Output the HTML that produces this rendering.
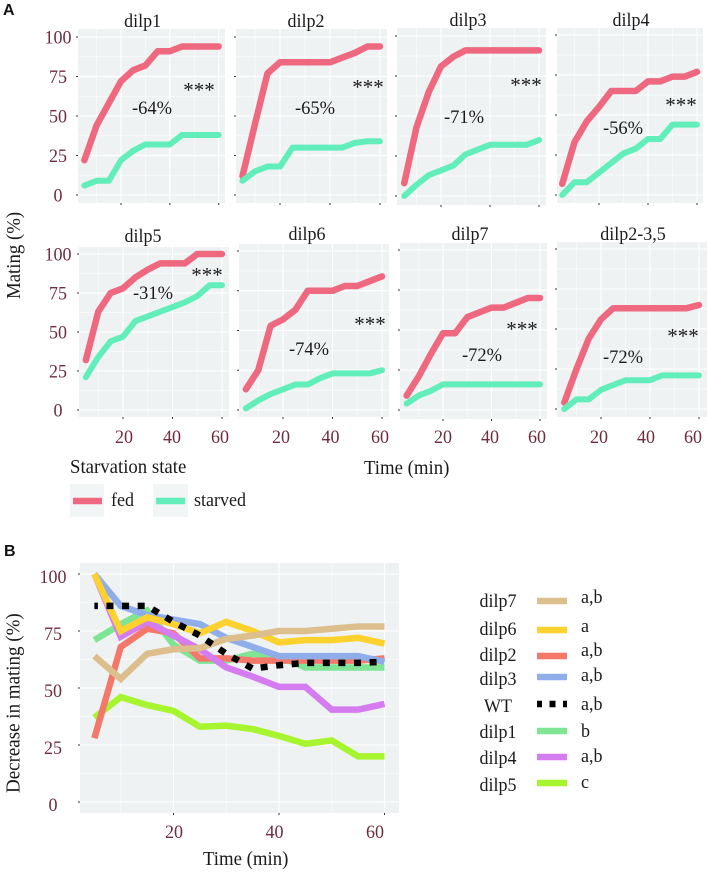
<!DOCTYPE html>
<html lang="en">
<head>
<meta charset="utf-8">
<title>Mating and decrease in mating over time</title>
<style>
html,body{margin:0;padding:0;background:#fff;width:709px;height:872px;overflow:hidden}
svg{display:block}
text{font-family:"Liberation Serif",serif;fill:#1c1a1c}
.tick{fill:#6e2c3e;font-size:18px}
.bold{font-family:"Liberation Sans",sans-serif;font-weight:bold;font-size:16px;fill:#111}
.t18{font-size:18px}
.t19{font-size:18.8px}
</style>
</head>
<body>
<svg id="figure" xmlns="http://www.w3.org/2000/svg" width="709" height="872" viewBox="0 0 709 872">
  <rect width="709" height="872" fill="#fff"/>
  <text class="bold" x="3" y="15">A</text>
  <text class="bold" x="4" y="556">B</text>

  <g id="panelsA"></g>

  <text class="t19" transform="translate(20 299) rotate(-90) scale(1 1.08)">Mating (%)</text>
  <text class="t19" transform="translate(364 474) scale(1 1.08)">Time (min)</text>

  <text class="t19" transform="translate(70 473) scale(1 1.08)">Starvation state</text>
  <g>
    <rect x="70" y="484" width="34" height="33" fill="#f2f5f5"/>
    <line x1="73" x2="102" y1="501" y2="501" stroke="#ee6880" stroke-width="6.5"/>
    <text class="t18" transform="translate(111 506) scale(1 1.08)">fed</text>
  </g>
  <g>
    <rect x="153" y="484" width="35" height="33" fill="#f2f5f5"/>
    <line x1="156" x2="185" y1="501" y2="501" stroke="#62eebb" stroke-width="6.5"/>
    <text class="t18" transform="translate(194 506) scale(1 1.08)">starved</text>
  </g>

  <g id="panelB"></g>

  <text style="font-size:19px" transform="translate(19.5 793) rotate(-90) scale(1 1.06)">Decrease in mating (%)</text>
  <text class="t19" transform="translate(203 865) scale(1 1.08)">Time (min)</text>

  <g id="legendB"></g>
</svg>

<script>
const SVG_NS = 'http://www.w3.org/2000/svg';

// ---- Panel A data ----
const timePoints = [5, 10, 15, 20, 25, 30, 35, 40, 45, 50, 55, 60];
const yTickValues = [0, 25, 50, 75, 100];
const yMinorValues = [12.5, 37.5, 62.5, 87.5];
const xTickValues = [20, 40, 60];
const xMinorValues = [10, 30, 50];

const dilp1Fed = [22, 44, 58, 72, 79, 82, 91, 91, 94, 94, 94, 94];
const dilp1Starved = [6, 9, 9, 22, 28, 32, 32, 32, 38, 38, 38, 38];
const dilp2Fed = [12, 45, 77, 84, 84, 84, 84, 84, 87, 90, 94, 94];
const dilp2Starved = [9, 15, 18, 18, 30, 30, 30, 30, 30, 33, 34, 34];
const dilp3Fed = [8, 43, 65, 81, 87, 91, 91, 91, 91, 91, 91, 91];
const dilp3Starved = [0, 7, 13, 16, 19, 26, 29, 32, 32, 32, 32, 35];
const dilp4Fed = [7, 33, 46, 55, 65, 65, 65, 71, 71, 74, 74, 77];
const dilp4Starved = [0, 8, 8, 14, 20, 26, 29, 35, 35, 44, 44, 44];
const dilp5Fed = [32, 63, 75, 78, 85, 90, 94, 94, 94, 100, 100, 100];
const dilp5Starved = [21, 34, 44, 47, 57, 60, 63, 66, 69, 73, 80, 80];
const dilp6Fed = [13, 25, 53, 57, 63, 75, 75, 75, 78, 78, 81, 84];
const dilp6Starved = [1, 6, 10, 13, 16, 16, 20, 23, 23, 23, 23, 25];
const dilp7Fed = [9, 21, 35, 48, 48, 58, 61, 64, 64, 67, 70, 70];
const dilp7Starved = [4, 9, 12, 16, 16, 16, 16, 16, 16, 16, 16, 16];
const dilp235Fed = [4, 25, 44, 56, 63, 63, 63, 63, 63, 63, 63, 65];
const dilp235Starved = [0, 6, 6, 12, 15, 18, 18, 18, 21, 21, 21, 21];

// ---- Panel B data ----
const decreaseYTicks = [0, 25, 50, 75, 100];
const decreaseYMinor = [12.5, 37.5, 62.5, 87.5];
const decreaseXTicks = [20, 40, 60];
const decreaseXMinor = [10, 30, 50];
const decreaseDilp5 = [37, 46, 42.5, 40, 33, 33.5, 32, 29, 25.5, 27, 20, 20];
const decreaseDilp1 = [71, 78, 84, 69, 62, 62, 65, 64, 59, 59, 59, 59];
const decreaseDilp2 = [28, 68, 76, 74, 63, 63, 62, 62, 62, 62, 62, 63];
const decreaseDilp3 = [100, 86, 82, 80, 78, 72, 68, 64, 64, 64, 64, 61.5];
const decreaseDilp4 = [100, 72.5, 79, 73, 67, 59, 55, 50.5, 50.5, 40.5, 40.5, 43];
const decreaseDilp6 = [100, 75, 81, 78, 74, 79, 75, 70, 71, 71, 72, 69.5];
const decreaseDilp7 = [64, 54, 65, 67, 67.5, 71.5, 73, 75, 75, 76, 77, 77];
const decreaseWT = [86, 86, 86, 79, 73, 65, 58.5, 60, 61, 61, 61, 61.5];

const fedColor = '#ee6880';
const starvedColor = '#62eebb';
const panelBg = '#eef2f3';

function mk(tag, attrs, parent) {
  const el = document.createElementNS(SVG_NS, tag);
  for (const k in attrs) el.setAttribute(k, attrs[k]);
  parent.appendChild(el);
  return el;
}

// Reference glyphs are slightly taller than they are wide.
function place(x, y, sy) {
  return 'translate(' + x + ' ' + y + ') scale(1 ' + (sy || 1.08) + ')';
}

function pathFrom(values, x, y) {
  return values.map((v, i) => (i ? 'L' : 'M') + x(timePoints[i]).toFixed(2) + ' ' + y(v).toFixed(2)).join(' ');
}

function drawFrame(g, f, x, y, xMajor, xMinor, yMajor, yMinor) {
  const bg = mk('rect', {x: f.left, y: f.top, width: f.right - f.left, height: f.bottom - f.top, fill: panelBg}, g);
  
  
  yMinor.forEach(v => {
    const l = mk('line', {x1: f.left, x2: f.right, y1: y(v), y2: y(v), stroke: '#fff', 'stroke-width': 0.7, 'stroke-opacity': 0.75}, g);
    
    
  });
  xMinor.forEach(v => {
    const l = mk('line', {x1: x(v), x2: x(v), y1: f.top, y2: f.bottom, stroke: '#fff', 'stroke-width': 0.7, 'stroke-opacity': 0.75}, g);
    
    
  });
  yMajor.forEach(v => {
    const l = mk('line', {x1: f.left, x2: f.right, y1: y(v), y2: y(v), stroke: '#fff', 'stroke-width': 1.2}, g);
    
    
    const t = mk('line', {x1: f.left - 2, x2: f.left, y1: y(v), y2: y(v), stroke: '#333', 'stroke-width': 1}, g);
    
    
  });
  xMajor.forEach(v => {
    const l = mk('line', {x1: x(v), x2: x(v), y1: f.top, y2: f.bottom, stroke: '#fff', 'stroke-width': 1.2}, g);
    
    
    const t = mk('line', {x1: x(v), x2: x(v), y1: f.bottom, y2: f.bottom + 2, stroke: '#333', 'stroke-width': 1}, g);
    
    
  });
}

function drawPanel(p) {
  const root = document.getElementById('panelsA');
  const g = mk('g', {}, root);
  
  

  const x = v => p.x20 + (v - 20) * (p.x60 - p.x20) / 40;
  const y = v => p.y0 + (p.y100 - p.y0) * v / 100;
  drawFrame(g, p, x, y, xTickValues, xMinorValues, yTickValues, yMinorValues);

  const title = mk('text', {transform: place(p.titleX, p.titleY), 'text-anchor': 'middle', 'font-size': 18}, g);
  title.textContent = p.title;
  
  

  const fed = mk('path', {d: pathFrom(p.fed, x, y), fill: 'none', stroke: fedColor, 'stroke-width': 6.5, 'stroke-linejoin': 'round', 'stroke-linecap': 'round'}, g);
  
  
  const starved = mk('path', {d: pathFrom(p.starved, x, y), fill: 'none', stroke: starvedColor, 'stroke-width': 6, 'stroke-linejoin': 'round', 'stroke-linecap': 'round'}, g);
  
  

  const pct = mk('text', {transform: place(p.pctX, p.pctY, 1.05), 'text-anchor': 'middle', 'font-size': 18.5}, g);
  pct.textContent = p.pct;
  
  
  const stars = mk('text', {x: p.starX, y: p.starY + 8.8, 'text-anchor': 'middle', 'font-size': 21}, g);
  stars.textContent = '***';
  
  

  if (p.showY) {
    yTickValues.forEach(v => {
      const t = mk('text', {transform: place(58, y(v) + 6.5, 1.05), 'text-anchor': 'middle', class: 'tick'}, g);
      t.textContent = String(v);
      
      
    });
  }
  if (p.label20 !== undefined) {
    const lx = v => p.label20 + (v - 20) * (p.label60 - p.label20) / 40;
    xTickValues.forEach(v => {
      const t = mk('text', {transform: place(lx(v), 443, 1.05), 'text-anchor': 'middle', class: 'tick'}, g);
      t.textContent = String(v);
      
      
    });
  }
}

drawPanel({title: 'dilp1', fed: dilp1Fed, starved: dilp1Starved, pct: '-64%', showY: true,
  left: 78, right: 225, top: 29, bottom: 203, x20: 121, x60: 218.7, y100: 37, y0: 195,
  titleX: 142.6, titleY: 27, pctX: 152, pctY: 114, starX: 199, starY: 88});
drawPanel({title: 'dilp2', fed: dilp2Fed, starved: dilp2Starved, pct: '-65%',
  left: 236, right: 387, top: 29, bottom: 203, x20: 280, x60: 380, y100: 37, y0: 195,
  titleX: 306, titleY: 27, pctX: 315, pctY: 114, starX: 368, starY: 85});
drawPanel({title: 'dilp3', fed: dilp3Fed, starved: dilp3Starved, pct: '-71%',
  left: 397, right: 546, top: 28, bottom: 205, x20: 441, x60: 539, y100: 36, y0: 196,
  titleX: 468, titleY: 26, pctX: 464, pctY: 123, starX: 526, starY: 83});
drawPanel({title: 'dilp4', fed: dilp4Fed, starved: dilp4Starved, pct: '-56%',
  left: 557, right: 703, top: 28, bottom: 203, x20: 599, x60: 697, y100: 35, y0: 195,
  titleX: 631, titleY: 26, pctX: 623, pctY: 134, starX: 681, starY: 103});
drawPanel({title: 'dilp5', fed: dilp5Fed, starved: dilp5Starved, pct: '-31%', showY: true,
  left: 79, right: 229, top: 247, bottom: 417, x20: 123, x60: 222, y100: 254, y0: 410,
  titleX: 143, titleY: 242, pctX: 153, pctY: 299, starX: 207, starY: 273, label20: 124, label60: 220});
drawPanel({title: 'dilp6', fed: dilp6Fed, starved: dilp6Starved, pct: '-74%',
  left: 239, right: 389, top: 244, bottom: 417, x20: 283, x60: 382, y100: 251, y0: 410,
  titleX: 307, titleY: 240, pctX: 309, pctY: 355, starX: 370, starY: 322, label20: 281, label60: 380});
drawPanel({title: 'dilp7', fed: dilp7Fed, starved: dilp7Starved, pct: '-72%',
  left: 400, right: 547, top: 243, bottom: 419, x20: 443, x60: 540, y100: 250, y0: 410,
  titleX: 470, titleY: 240, pctX: 482, pctY: 361, starX: 522, starY: 327, label20: 443, label60: 537});
drawPanel({title: 'dilp2-3,5', fed: dilp235Fed, starved: dilp235Starved, pct: '-72%',
  left: 557, right: 707, top: 242, bottom: 417, x20: 601, x60: 699, y100: 249, y0: 409,
  titleX: 633, titleY: 240, pctX: 623, pctY: 363, starX: 683, starY: 334, label20: 599, label60: 693});

// ---- Panel B ----
(function () {
  const g = document.getElementById('panelB');
  const f = {left: 80, right: 399, top: 563, bottom: 813};
  const x = v => 173.5 + (v - 20) * (384.5 - 173.5) / 40;
  const y = v => 802 + (574 - 802) * v / 100;
  const labelX = v => 174 + (v - 20) * (375 - 174) / 40;
  drawFrame(g, f, x, y, decreaseXTicks, decreaseXMinor, decreaseYTicks, decreaseYMinor);

  const draw = [
    ['dilp5', decreaseDilp5, '#a6f52f'],
    ['dilp1', decreaseDilp1, '#7fe494'],
    ['dilp2', decreaseDilp2, '#f4786a'],
    ['dilp3', decreaseDilp3, '#8fade8'],
    ['dilp4', decreaseDilp4, '#d57df0'],
    ['dilp6', decreaseDilp6, '#fdd22f'],
    ['dilp7', decreaseDilp7, '#dcbf8c'],
    ['wt', decreaseWT, '#000000']
  ];
  draw.forEach(s => {
    const attrs = {d: pathFrom(s[1], x, y), fill: 'none', stroke: s[2], 'stroke-width': 6.5, 'stroke-linejoin': 'miter'};
    if (s[0] === 'wt') { attrs['stroke-dasharray'] = '7 8.6'; attrs['stroke-dashoffset'] = '3.5'; }
    const p = mk('path', attrs, g);
    
    
  });

  decreaseYTicks.forEach(v => {
    const t = mk('text', {transform: place(53, y(v) + 9, 1.05), 'text-anchor': 'middle', class: 'tick'}, g);
    t.textContent = String(v);
    
    
  });
  decreaseXTicks.forEach(v => {
    const t = mk('text', {transform: place(labelX(v), 838, 1.05), 'text-anchor': 'middle', class: 'tick'}, g);
    t.textContent = String(v);
    
    
  });

  const lg = document.getElementById('legendB');
  const entries = [
    ['dilp7', 607, 601, '#dcbf8c', 'a,b', 603],
    ['dilp6', 635, 630, '#fdd22f', 'a', 632],
    ['dilp2', 661, 656, '#f4786a', 'a,b', 656],
    ['dilp3', 685, 677, '#8fade8', 'a,b', 681],
    ['WT', 712, 704, '#000000', 'a,b', 710],
    ['dilp1', 738, 731, '#7fe494', 'b', 737],
    ['dilp4', 764, 757, '#d57df0', 'a,b', 762],
    ['dilp5', 791, 783, '#a6f52f', 'c', 788]
  ];
  entries.forEach(e => {
    const eg = mk('g', {}, lg);
    
    
    const t = mk('text', {transform: place(498, e[1]), 'text-anchor': 'middle', class: 't18'}, eg);
    t.textContent = e[0];
    
    
    const attrs = {x1: 537, x2: 567, y1: e[2], y2: e[2], stroke: e[3], 'stroke-width': 6.5};
    if (e[0] === 'WT') attrs['stroke-dasharray'] = '5 7.5 6 7.5 5';
    const l = mk('line', attrs, eg);
    
    
    const s = mk('text', {transform: place(581, e[5]), class: 't18'}, eg);
    s.textContent = e[4];
    
    
  });
})();
</script>
</body>
</html>
